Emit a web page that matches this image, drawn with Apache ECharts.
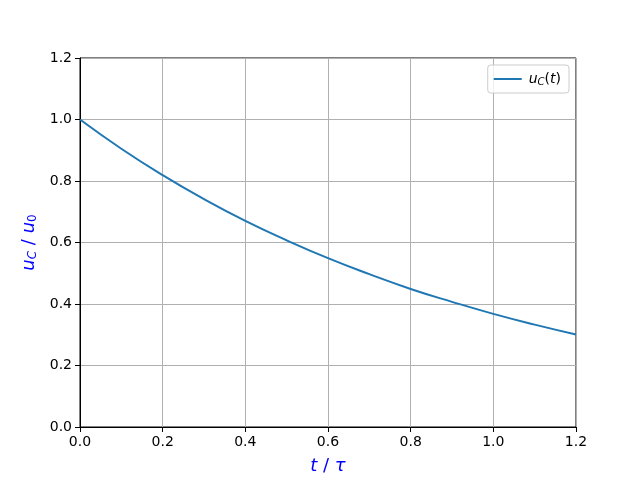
<!DOCTYPE html>
<html><head><meta charset="utf-8">
<script src="https://cdn.jsdelivr.net/npm/echarts@6/dist/echarts.min.js"></script>
<style>html,body{margin:0;padding:0;background:#fff}#c{width:640px;height:480px}</style>
</head><body><div id="c"></div>
<script>
var tValues = [0.0, 0.1, 0.2, 0.3, 0.4, 0.5, 0.6, 0.7, 0.8, 0.9, 1.0, 1.1, 1.2];
var ucValues = [1.0, 0.905, 0.819, 0.741, 0.670, 0.607, 0.549, 0.497, 0.449, 0.407, 0.368, 0.333, 0.301];
var xTicks = [0.0, 0.2, 0.4, 0.6, 0.8, 1.0, 1.2];
var yTicks = [0.0, 0.2, 0.4, 0.6, 0.8, 1.0, 1.2];
var seriesName = 'uC(t)';

var chart = echarts.init(document.getElementById('c'));
var font = 'DejaVu Sans';
var axisCommon = {
  min: 0, max: 1.2, interval: 0.2,
  axisLine: {show: true, onZero: false, lineStyle: {color: '#000', width: 1}},
  axisTick: {show: true, inside: false, length: 5, lineStyle: {color: '#000', width: 1}},
  splitLine: {show: true, lineStyle: {color: '#b0b0b0', width: 1}},
  axisLabel: {color: '#000', fontFamily: font, fontSize: 14, formatter: function (v) { return v.toFixed(1); }},
  nameLocation: 'middle'
};
var rich = {
  i: {fontStyle: 'italic', fontFamily: font, fontSize: 18, color: '#0000ff'},
  s: {fontStyle: 'italic', fontFamily: font, fontSize: 12, color: '#0000ff', padding: [8, 0, 0, 0]},
  z: {fontFamily: font, fontSize: 12, color: '#0000ff', padding: [8, 0, 0, 0]},
  n: {fontFamily: font, fontSize: 18, color: '#0000ff'}
};
chart.setOption({
  animation: false,
  grid: {left: 80, right: 64, top: 58, bottom: 53, show: true, borderColor: '#000', borderWidth: 1},
  xAxis: Object.assign({}, axisCommon, {
    type: 'value', name: '{i|t}{n| / }{i|τ}', nameGap: 30,
    nameTextStyle: {rich: rich}
  }),
  yAxis: Object.assign({}, axisCommon, {
    type: 'value', name: '{i|u}{s|C}{n| / }{i|u}{z|0}', nameGap: 26,
    nameTextStyle: {rich: rich}
  }),
  legend: {
    top: 65, right: 71, orient: 'vertical',
    data: [seriesName],
    icon: 'rect', itemWidth: 28, itemHeight: 2, itemGap: 6,
    padding: [7, 8, 6, 6],
    borderColor: '#cccccc', borderWidth: 1, borderRadius: 3,
    backgroundColor: 'rgba(255,255,255,0.8)',
    formatter: function () { return '{a|u}{b|C}{c|(}{a|t}{c|)}'; },
    textStyle: {
      padding: [0, 0, 0, 2],
      rich: {
        a: {fontStyle: 'italic', fontFamily: font, fontSize: 14, color: '#000'},
        b: {fontStyle: 'italic', fontFamily: font, fontSize: 10, color: '#000', padding: [6, 0, 0, 0]},
        c: {fontFamily: font, fontSize: 14, color: '#000'}
      }
    }
  },
  series: [{
    name: seriesName, type: 'line', smooth: true, showSymbol: false,
    data: tValues.map(function (t, k) { return [t, ucValues[k]]; }),
    lineStyle: {color: '#1f77b4', width: 2}, itemStyle: {color: '#1f77b4'}
  }]
});
</script></body></html>
